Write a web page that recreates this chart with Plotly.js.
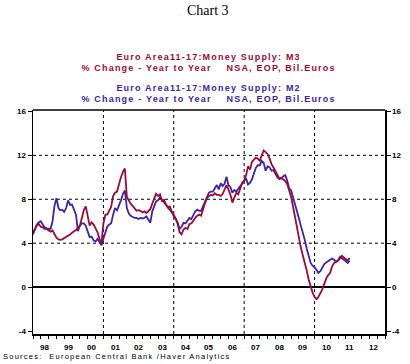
<!DOCTYPE html>
<html>
<head>
<meta charset="utf-8">
<script src="https://cdn.plot.ly/plotly-3.0.1.min.js"></script>
<style>
  html, body { margin: 0; padding: 0; background: #fff; }
  #chart { width: 410px; height: 364px; }
  .annotation[data-index="1"] text, .annotation[data-index="2"] text,
  .annotation[data-index="3"] text, .annotation[data-index="4"] text { letter-spacing: 1.2px; }
  .annotation[data-index="5"] text { letter-spacing: 1.25px; }
</style>
</head>
<body>
<div id="chart"></div>
<script>
// ---- Data (monthly, Jan 1998 - Jul 2011), % change year to year ----
const START_YEAR = 1998;

// Euro Area 11-17: Money Supply M3
const M3 = [
  5.0, 5.3, 5.6, 5.75, 5.5, 5.45, 5.3, 5.3, 5.15, 5.05, 5.15, 4.8,      // 1998
  4.5, 4.35, 4.3, 4.35, 4.45, 4.55, 4.65, 4.8, 4.95, 5.05, 5.2, 5.4,    // 1999
  5.6, 6.3, 7.0, 7.35, 6.6, 5.6, 5.9, 5.7, 5.35, 5.0, 4.4, 3.95,        // 2000
  5.8, 6.6, 6.6, 6.9, 7.3, 8.3, 8.6, 8.7, 9.5, 10.0, 10.5, 10.8,        // 2001
  8.2, 7.8, 7.6, 7.4, 7.15, 6.95, 7.0, 6.95, 6.8, 6.9, 6.75, 6.9,       // 2002
  7.1, 7.6, 8.1, 8.5, 8.3, 8.45, 7.85, 7.95, 7.55, 7.25, 7.35, 6.8,     // 2003
  6.45, 6.2, 5.75, 5.0, 4.8, 5.25, 5.4, 5.3, 5.75, 5.8, 6.1, 6.3,       // 2004
  6.5, 6.6, 6.5, 7.2, 7.65, 8.1, 8.3, 8.4, 8.35, 8.55, 8.4, 8.4,        // 2005
  8.3, 8.5, 8.9, 9.3, 8.9, 8.4, 7.7, 8.1, 8.6, 8.45, 8.9, 9.5,          // 2006
  9.7, 10.2, 11.0, 10.7, 11.4, 11.6, 11.8, 11.7, 11.5, 12.0, 12.45, 12.3, // 2007
  12.1, 11.7, 11.2, 10.9, 10.6, 10.2, 9.9, 9.95, 9.8, 9.65, 9.4, 8.9,   // 2008
  8.2, 7.3, 6.4, 5.4, 4.4, 3.6, 2.9, 2.3, 1.5, 0.7, 0.0, -0.5,          // 2009
  -0.9, -1.1, -0.9, -0.6, -0.2, 0.3, 0.8, 1.1, 1.3, 1.9, 2.2, 2.3,      // 2010
  2.4, 2.65, 2.85, 2.7, 2.55, 2.4, 2.65                                 // 2011
];

// Euro Area 11-17: Money Supply M2
const M2 = [
  4.8, 5.3, 5.7, 5.9, 6.0, 5.7, 5.45, 5.35, 5.3, 5.3, 6.0, 7.4,         // 1998
  8.1, 7.2, 7.0, 7.05, 6.85, 7.2, 7.9, 7.5, 7.5, 7.1, 6.6, 5.1,         // 1999
  5.6, 5.8, 5.8, 5.6, 5.0, 4.55, 4.6, 4.25, 4.15, 4.4, 4.1, 3.8,        // 2000
  4.4, 5.0, 5.5, 5.7, 5.8, 6.6, 7.2, 7.0, 7.4, 7.9, 8.5, 8.8,           // 2001
  7.2, 6.7, 6.5, 6.4, 6.3, 6.3, 6.2, 6.3, 6.25, 6.3, 6.45, 6.15,        // 2002
  5.85, 6.9, 7.4, 7.8, 7.9, 8.2, 7.95, 7.7, 7.5, 7.3, 7.0, 6.8,         // 2003
  6.6, 6.2, 5.9, 5.3, 5.5, 5.85, 5.8, 6.05, 6.3, 6.2, 6.6, 6.9,         // 2004
  7.05, 6.95, 6.95, 7.35, 7.8, 8.3, 8.6, 8.7, 8.7, 9.0, 9.3, 8.9,       // 2005
  9.45, 9.2, 9.4, 10.05, 9.3, 9.1, 8.6, 8.85, 8.7, 8.95, 9.2, 9.45,     // 2006
  9.6, 9.9, 9.35, 9.5, 9.8, 10.4, 10.85, 11.1, 11.1, 11.5, 11.3, 10.6,  // 2007
  11.0, 10.9, 10.6, 10.65, 10.3, 10.0, 9.85, 9.9, 10.1, 10.2, 9.7, 9.0, // 2008
  8.8, 8.2, 7.6, 6.9, 6.3, 5.6, 5.0, 4.3, 3.5, 2.9, 2.2, 1.95,          // 2009
  1.8, 1.55, 1.3, 1.45, 1.75, 2.1, 2.25, 2.4, 2.5, 2.6, 2.5, 2.3,       // 2010
  2.45, 2.75, 2.65, 2.5, 2.35, 2.2, 2.4                                 // 2011
];

// x tick labels (one per calendar year, centred mid-year)
const YEAR_LABELS = ['98', '99', '00', '01', '02', '03', '04', '05', '06', '07', '08', '09', '10', '11', '12'];
const YEAR_LABEL_POS = ['1998-07-02', '1999-07-02', '2000-07-02', '2001-07-02', '2002-07-02',
  '2003-07-02', '2004-07-02', '2005-07-02', '2006-07-02', '2007-07-02', '2008-07-02',
  '2009-07-02', '2010-07-02', '2011-07-02', '2012-07-02'];

const Y_TICKS = [-4, 0, 4, 8, 12, 16];
const Y_LABELS = ['-4', '0', '4', '8', '12', '16'];
const GRID_Y = [4, 8, 12];
const GRID_X = ['2001-01-01', '2004-01-01', '2007-01-01', '2010-01-01'];
const X_RANGE = ['1998-01-01', '2013-01-01'];
const Y_RANGE = [-4.27, 16.13];

const TITLE = 'Chart 3';
const SUB_M3 = ['Euro Area11-17:Money Supply: M3',
                '% Change - Year to Year\u00a0\u00a0\u00a0\u00a0NSA, EOP, Bil.Euros'];
const SUB_M2 = ['Euro Area11-17:Money Supply: M2',
                '% Change - Year to Year\u00a0\u00a0\u00a0\u00a0NSA, EOP, Bil.Euros'];
const SOURCE = 'Sources:\u00a0\u00a0European Central Bank /Haver Analytics';

function monthDates(startYear, n) {
  const out = [];
  for (let i = 0; i < n; i++) {
    const y = startYear + Math.floor(i / 12);
    const m = (i % 12) + 1;
    out.push(y + '-' + String(m).padStart(2, '0') + '-01');
  }
  return out;
}

const RED = '#9b0a36';
const BLUE = '#3a24a8';
const SANS = 'Liberation Sans, Arial, sans-serif';

const W = 410, H = 364;
const M = { l: 33, r: 25, t: 110, b: 30 };
const plotH = H - M.t - M.b;
const plotW = W - M.l - M.r;
const py = p => (H - M.b - p) / plotH;   // pixel row -> paper y
const px = p => (p - M.l) / plotW;       // pixel col -> paper x

const traceM2 = {
  x: monthDates(START_YEAR, M2.length), y: M2,
  type: 'scatter', mode: 'lines',
  line: { color: BLUE, width: 1.8 }, hoverinfo: 'skip'
};
const traceM3 = {
  x: monthDates(START_YEAR, M3.length), y: M3,
  type: 'scatter', mode: 'lines',
  line: { color: RED, width: 1.8 }, hoverinfo: 'skip'
};

const tickFont = { family: SANS, size: 8, color: '#000', weight: 'bold' };
const subFont = c => ({ family: SANS, size: 9, color: c, weight: 'bold' });

const gridLine = { color: '#000', width: 1, dash: '3px,3px' };
const shapes = GRID_Y.map(v => ({
  type: 'line', xref: 'paper', x0: 0, x1: 1, yref: 'y', y0: v, y1: v,
  layer: 'below', line: gridLine
})).concat(GRID_X.map(d => ({
  type: 'line', xref: 'x', x0: d, x1: d, yref: 'paper', y0: 0, y1: 1,
  layer: 'below', line: gridLine
}))).concat([{
  // top frame edge
  type: 'line', xref: 'paper', yref: 'paper', x0: 0, x1: 1, y0: 1, y1: 1,
  line: { color: '#000', width: 1.5 }
}]);

// right-hand y labels (mirror of the left axis labels)
const rightLabels = Y_TICKS.map((v, i) => ({
  text: Y_LABELS[i], xref: 'paper', yref: 'y', x: 1, y: v,
  xanchor: 'left', yanchor: 'middle', xshift: 5, showarrow: false,
  font: tickFont
}));
// year labels below the x axis, placed through the date axis
const xLabels = YEAR_LABEL_POS.map((d, i) => ({
  text: YEAR_LABELS[i], xref: 'x', yref: 'paper', x: d, y: 0,
  xanchor: 'center', yanchor: 'middle', yshift: -13, showarrow: false,
  font: tickFont
}));

const layout = {
  width: W, height: H, margin: M,
  paper_bgcolor: '#fff', plot_bgcolor: '#fff',
  showlegend: false,
  xaxis: {
    type: 'date', range: X_RANGE,
    tickmode: 'linear', tick0: '1998-01-01', dtick: 'M4',
    ticks: 'outside', ticklen: 3.5, tickwidth: 1, tickcolor: '#000',
    showticklabels: false, showgrid: false, zeroline: false,
    showline: true, linecolor: '#000', linewidth: 1.5, mirror: false
  },
  yaxis: {
    range: Y_RANGE, tickmode: 'array', tickvals: Y_TICKS, ticktext: Y_LABELS,
    ticks: 'outside', ticklen: 4, tickwidth: 1, tickcolor: '#000',
    showgrid: false, zeroline: true, zerolinecolor: '#000', zerolinewidth: 1.5,
    showline: true, linecolor: '#000', linewidth: 1.5, mirror: 'ticks',
    tickfont: tickFont
  },
  shapes: shapes,
  annotations: [
    { text: TITLE, xref: 'paper', yref: 'paper', x: px(207.5), y: py(11),
      xanchor: 'center', yanchor: 'middle', showarrow: false,
      font: { family: 'Liberation Serif, Times New Roman, serif', size: 14, color: '#000' } },
    { text: SUB_M3[0], xref: 'paper', yref: 'paper', x: px(208), y: py(57),
      xanchor: 'center', yanchor: 'middle', showarrow: false, font: subFont(RED) },
    { text: SUB_M3[1], xref: 'paper', yref: 'paper', x: px(208), y: py(68),
      xanchor: 'center', yanchor: 'middle', showarrow: false, font: subFont(RED) },
    { text: SUB_M2[0], xref: 'paper', yref: 'paper', x: px(208), y: py(88),
      xanchor: 'center', yanchor: 'middle', showarrow: false, font: subFont(BLUE) },
    { text: SUB_M2[1], xref: 'paper', yref: 'paper', x: px(208), y: py(99),
      xanchor: 'center', yanchor: 'middle', showarrow: false, font: subFont(BLUE) },
    { text: SOURCE, xref: 'paper', yref: 'paper', x: px(31), y: py(356),
      xanchor: 'left', yanchor: 'middle', showarrow: false,
      font: { family: SANS, size: 7.5, color: '#000' } }
  ].concat(rightLabels, xLabels)
};

Plotly.newPlot('chart', [traceM2, traceM3], layout, { staticPlot: true, displayModeBar: false });
</script>
</body>
</html>
